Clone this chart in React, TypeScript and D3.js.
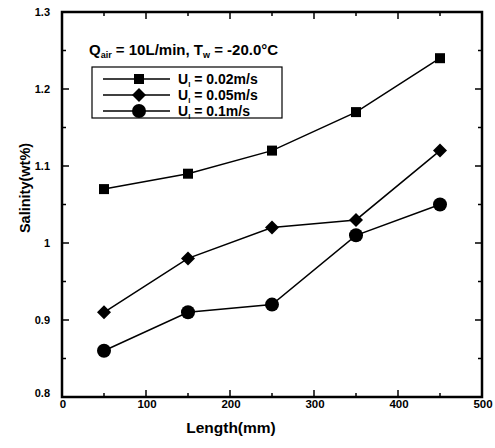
import React from "react";
import * as d3 from "d3";

const lengths = [50, 150, 250, 350, 450];
const u002 = [1.07, 1.09, 1.12, 1.17, 1.24];
const u005 = [0.91, 0.98, 1.02, 1.03, 1.12];
const u01 = [0.86, 0.91, 0.92, 1.01, 1.05];
const xTicks = [0, 100, 200, 300, 400, 500];
const yTicks = [0.8, 0.9, 1, 1.1, 1.2, 1.3];
const seriesLabels = ["0.02m/s", "0.05m/s", "0.1m/s"];

const W = 495, H = 448;
const L = 62, R = 482, T = 12, B = 397;

export default function App() {
  const x = d3.scaleLinear().domain([0, 500]).range([L, R]);
  const y = d3.scaleLinear().domain([0.8, 1.3]).range([B, T]);
  const line = d3.line<number>().x((_, i) => x(lengths[i])).y((d) => y(d));
  const font = "'Liberation Sans', Arial, sans-serif";

  const xMinor = d3.range(0, 501, 50);
  const yMinor = d3.range(0.8, 1.3001, 0.05);

  const marker = (k: number, cx: number, cy: number, key: string) => {
    if (k === 0) return <rect key={key} x={cx - 5} y={cy - 5} width={10} height={10} fill="#000" />;
    if (k === 1)
      return <path key={key} d={`M${cx},${cy - 7}L${cx + 7},${cy}L${cx},${cy + 7}L${cx - 7},${cy}Z`} fill="#000" />;
    return <circle key={key} cx={cx} cy={cy} r={7} fill="#000" />;
  };

  const series = [u002, u005, u01];

  return (
    <svg width={W} height={H} style={{ position: "absolute", left: 0, top: 0, background: "#fff" }}>
      <rect x={0} y={0} width={W} height={H} fill="#fff" />
      {xMinor.map((v, i) => {
        const major = Math.round(v) % 100 === 0;
        const len = major ? 7 : 4;
        return (
          <g key={"xt" + i} stroke="#000" strokeWidth={1.5}>
            <line x1={x(v)} x2={x(v)} y1={B} y2={B - len} />
            <line x1={x(v)} x2={x(v)} y1={T} y2={T + len} />
          </g>
        );
      })}
      {yMinor.map((v, i) => {
        const major = i % 2 === 0;
        const len = major ? 7 : 4;
        return (
          <g key={"yt" + i} stroke="#000" strokeWidth={1.5}>
            <line x1={L} x2={L + len} y1={y(v)} y2={y(v)} />
            <line x1={R} x2={R - len} y1={y(v)} y2={y(v)} />
          </g>
        );
      })}
      <rect x={L} y={T} width={R - L} height={B - T} fill="none" stroke="#000" strokeWidth={2.5} />
      {xTicks.map((v) => (
        <text key={"xl" + v} x={x(v) + 1} y={408} textAnchor="middle" fontFamily={font} fontSize={11.5} fontWeight="bold">
          {v}
        </text>
      ))}
      {yTicks.map((v) => (
        <text key={"yl" + v} x={L - 12} y={y(v) + (v === 0.8 ? 0 : 4)} textAnchor="end" fontFamily={font} fontSize={11} fontWeight="bold">
          {String(v)}
        </text>
      ))}
      <text x={231} y={433} textAnchor="middle" fontFamily={font} fontSize={15.5} fontWeight="bold">
        Length(mm)
      </text>
      <text
        transform={`translate(30,${188}) rotate(-90)`}
        textAnchor="middle"
        fontFamily={font}
        fontSize={14.5}
        fontWeight="bold"
      >
        Salinity(wt%)
      </text>
      {series.map((s, k) => (
        <g key={"s" + k}>
          <path d={line(s) || ""} fill="none" stroke="#000" strokeWidth={1.5} />
          {s.map((v, i) => marker(k, x(lengths[i]), y(v), `m${k}-${i}`))}
        </g>
      ))}
      <text x={89} y={55} fontFamily={font} fontSize={15} fontWeight="bold">
        Q<tspan fontSize={9} dy={3}>air</tspan>
        <tspan dy={-3}> = 10L/min, T</tspan>
        <tspan fontSize={9} dy={3}>w</tspan>
        <tspan dy={-3}> = -20.0°C</tspan>
      </text>
      <rect x={92} y={67} width={190} height={51} fill="#fff" stroke="#000" strokeWidth={1.2} />
      {seriesLabels.map((lab, k) => {
        const cy = 79 + k * 16;
        return (
          <g key={"lg" + k}>
            <line x1={103} x2={170} y1={cy} y2={cy} stroke="#000" strokeWidth={1.5} />
            {marker(k, 139, cy, "lm" + k)}
            <text x={178} y={cy + 5} fontFamily={font} fontSize={14} fontWeight="bold">
              U<tspan fontSize={8} dy={3}>l</tspan>
              <tspan dy={-3}> = {lab}</tspan>
            </text>
          </g>
        );
      })}
    </svg>
  );
}
